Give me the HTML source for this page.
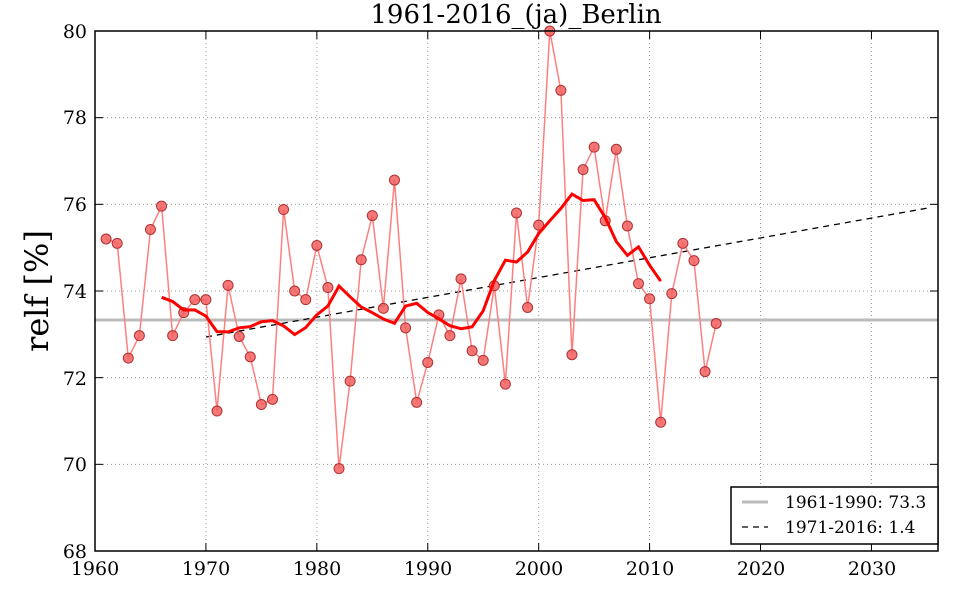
<!DOCTYPE html>
<html><head><meta charset="utf-8"><style>
body{margin:0;background:#fff;}
svg text{font-family:"DejaVu Serif","Liberation Serif",serif;}
</style></head><body>
<svg id="s" width="960" height="600" xmlns="http://www.w3.org/2000/svg">
<rect width="960" height="600" fill="#fff"/>
<g id="grid" stroke="#999" stroke-width="1" stroke-dasharray="1,3"></g>
<line x1="95" y1="320" x2="938" y2="320" stroke="#bbb" stroke-width="3"/>
<line x1="206" y1="337" x2="928" y2="208" stroke="#000" stroke-width="1.3" stroke-dasharray="6,5"/>
<g id="data"></g>
<rect x="95" y="31" width="843" height="520" fill="none" stroke="#000" stroke-width="1.5"/>
<g id="ticks" stroke="#000" stroke-width="1"></g>
<g font-size="19" text-anchor="middle">
<text x="95" y="575">1960</text><text x="206" y="575">1970</text><text x="317" y="575">1980</text>
<text x="428" y="575">1990</text><text x="539" y="575">2000</text><text x="650" y="575">2010</text>
<text x="761" y="575">2020</text><text x="872" y="575">2030</text>
</g>
<g font-size="19" text-anchor="end">
<text x="87" y="38">80</text><text x="87" y="124">78</text><text x="87" y="211">76</text>
<text x="87" y="298">74</text><text x="87" y="385">72</text><text x="87" y="471">70</text>
<text x="87" y="558">68</text>
</g>
<text x="516" y="23" font-size="26" text-anchor="middle">1961-2016_(ja)_Berlin</text>
<text transform="translate(48,291) rotate(-90)" font-size="32" text-anchor="middle">relf [%]</text>
<rect x="731" y="487" width="207" height="57" fill="#fff" stroke="#000" stroke-width="1.5"/>
<line x1="742" y1="502" x2="768" y2="502" stroke="#bbb" stroke-width="3"/>
<line x1="742" y1="527" x2="768" y2="527" stroke="#000" stroke-width="1.3" stroke-dasharray="6,5"/>
<text x="785" y="508" font-size="17">1961-1990: 73.3</text>
<text x="785" y="533" font-size="17">1971-2016: 1.4</text>
</svg>
<script>
var v=[75.2,75.1,72.45,72.97,75.42,75.96,72.97,73.5,73.8,73.8,71.23,74.13,72.95,72.48,71.38,71.5,75.88,74.0,73.8,75.05,74.08,69.9,71.92,74.72,75.74,73.6,76.56,73.15,71.43,72.35,73.45,72.97,74.28,72.62,72.4,74.12,71.85,75.8,73.62,75.52,80.0,78.63,72.53,76.8,77.32,75.62,77.27,75.5,74.17,73.82,70.97,73.94,75.1,74.7,72.14,73.25];
function X(y){return 95+(y-1960)*11.092;}function Y(v){return 31+(80-v)*43.333;}
var ns="http://www.w3.org/2000/svg";
function el(p,t,a){var e=document.createElementNS(ns,t);for(var k in a)e.setAttribute(k,a[k]);document.getElementById(p).appendChild(e);return e;}
for(var i=1;i<8;i++){el('grid','line',{x1:X(1960+10*i),y1:31,x2:X(1960+10*i),y2:551});}
for(var i=1;i<6;i++){el('grid','line',{x1:95,y1:Y(68+2*i),x2:938,y2:Y(68+2*i)});}
for(var i=0;i<8;i++){var x=X(1960+10*i);el('ticks','line',{x1:x,y1:551,x2:x,y2:543});el('ticks','line',{x1:x,y1:31,x2:x,y2:39});}
for(var i=0;i<7;i++){var y=Y(68+2*i);el('ticks','line',{x1:95,y1:y,x2:103,y2:y});el('ticks','line',{x1:938,y1:y,x2:930,y2:y});}
var pts=v.map(function(d,i){return X(1961+i).toFixed(1)+','+Y(d).toFixed(1);}).join(' ');
el('data','polyline',{points:pts,fill:'none',stroke:'#ff7f7f','stroke-width':1.5});
v.forEach(function(d,i){el('data','circle',{cx:X(1961+i),cy:Y(d),r:5,fill:'#f26060','fill-opacity':0.85,stroke:'#b03030','stroke-width':1});});
var m=[];for(var i=5;i<v.length-5;i++){var s=0;for(var j=i-5;j<=i+5;j++)s+=v[j];m.push(X(1961+i).toFixed(1)+','+Y(s/11).toFixed(1));}
el('data','polyline',{points:m.join(' '),fill:'none',stroke:'#ff0000','stroke-width':3});
</script>
</body></html>
